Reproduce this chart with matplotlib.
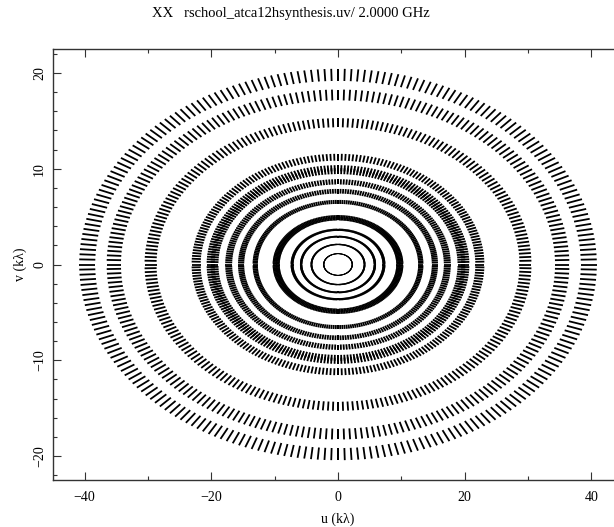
"""
uv coverage of a 12 hour ATCA synthesis at 2 GHz, drawn in the style of
a MIRIAD uvplt plot: one short radial dash per integration, spread across
the observing band.
"""
import numpy as np
import matplotlib
matplotlib.use("Agg")
import matplotlib.pyplot as plt
from matplotlib.collections import LineCollection
from matplotlib.ticker import MultipleLocator

# baseline lengths of the array in kilo-wavelengths at 2.0 GHz
baselines_klam = [2.25, 4.19, 5.82, 7.25, 9.5, 10.0, 13.07, 15.3,
                  17.26, 19.5, 20.1, 22.4, 29.6, 35.4, 39.6]

# observation setup
declination_deg = -30.0
hour_angle_range = [-6.0, 6.0]     # hours
integration_min = 6.0              # one sample every 6 minutes
band_fraction = [0.968, 1.032]     # band edges relative to 2.0 GHz

title = "XX   rschool_atca12hsynthesis.uv/ 2.0000 GHz"
xticks = [-40, -20, 0, 20, 40]
yticks = [-20, -10, 0, 10, 20]


def uv_dashes():
    """Return one radial segment per baseline and integration (plus conjugates)."""
    n = int(round((hour_angle_range[1] - hour_angle_range[0]) * 60 / integration_min)) + 1
    ha = np.linspace(hour_angle_range[0], hour_angle_range[1], n) * np.pi / 12
    sin_dec = abs(np.sin(np.radians(declination_deg)))
    segs = []
    for b in baselines_klam:
        u = b * np.cos(ha)
        v = b * sin_dec * np.sin(ha)
        for sign in (1, -1):
            lo = np.column_stack([sign * u * band_fraction[0], sign * v * band_fraction[0]])
            hi = np.column_stack([sign * u * band_fraction[1], sign * v * band_fraction[1]])
            segs.extend(np.stack([lo, hi], axis=1))
    return segs


plt.rcParams["font.family"] = ["Liberation Serif", "DejaVu Serif"]
plt.rcParams["font.size"] = 10

fig = plt.figure(figsize=(6.14, 5.27), dpi=100)
# right edge of the frame runs just past the figure border
ax = fig.add_axes([53 / 614, 47 / 527, 570 / 614, 431 / 527])

lc = LineCollection(uv_dashes(), colors="black", linewidths=1.3, capstyle="butt")
ax.add_collection(lc)

ax.set_xlim(-45, 45)
ax.set_ylim(-22.5, 22.5)

ax.set_xticks(xticks)
ax.set_yticks(yticks)
ax.xaxis.set_minor_locator(MultipleLocator(10))
ax.yaxis.set_minor_locator(MultipleLocator(2))
ax.tick_params(which="both", direction="in", top=True, right=True, width=0.8, color="#333333")
ax.tick_params(which="major", length=6, pad=8)
ax.tick_params(which="minor", length=3)
ax.tick_params(axis="y", which="major", pad=5)
for lab in ax.get_yticklabels():
    lab.set_rotation(90)
    lab.set_va("center")

for sp in ax.spines.values():
    sp.set_linewidth(1.0)
    sp.set_color("#333333")

fig.text(291 / 614, 1 - 14 / 527, title, ha="center", va="center", fontsize=10.5)
fig.text(338 / 614, 1 - 519 / 527, "u (kλ)", ha="center", va="center")
fig.text(20 / 614, 1 - 264 / 527, "v (kλ)", ha="center", va="center", rotation=90)

fig.savefig("out.png", dpi=100)
